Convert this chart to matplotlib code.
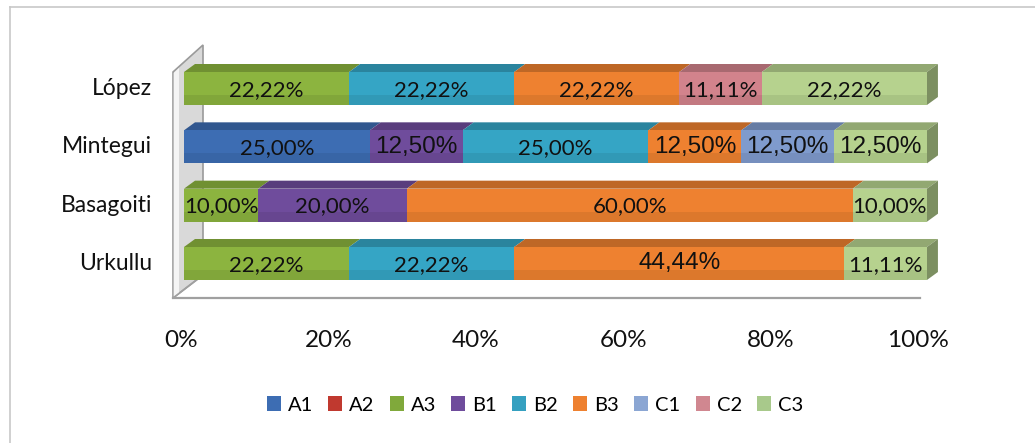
import numpy as np
import matplotlib
matplotlib.use("Agg")
from matplotlib import pyplot as plt
from matplotlib.patches import Polygon, Rectangle, Patch
from matplotlib.lines import Line2D

# categories bottom -> top
candidates = ["Urkullu", "Basagoiti", "Mintegui", "López"]
series = ["A1", "A2", "A3", "B1", "B2", "B3", "C1", "C2", "C3"]

# percent per series, in the order of candidates
A1 = [0, 0, 25.00, 0]
A2 = [0, 0, 0, 0]
A3 = [22.22, 10.00, 0, 22.22]
B1 = [0, 20.00, 12.50, 0]
B2 = [22.22, 0, 25.00, 22.22]
B3 = [44.44, 60.00, 12.50, 22.22]
C1 = [0, 0, 12.50, 0]
C2 = [0, 0, 0, 11.11]
C3 = [11.11, 10.00, 12.50, 22.22]
ticks = [0, 20, 40, 60, 80, 100]

values = np.array([A1, A2, A3, B1, B2, B3, C1, C2, C3])

colors = ["#3d6db3", "#c0392f", "#8cb43f", "#6f4c9c", "#35a5c5",
          "#ee8130", "#7f9bcd", "#d2838c", "#b6d28e"]
legend_colors = ["#3d6db3", "#c0392f", "#80a93b", "#6f4c9c", "#35a0c0",
                 "#ee8130", "#8ba6d3", "#d08790", "#a8c98b"]

# labels Excel drew in the bigger Arial-like font
big_labels = {("Mintegui", "B1"), ("Mintegui", "B3"), ("Mintegui", "C1"),
              ("Mintegui", "C3"), ("Urkullu", "B3")}


def shade(c, f):
    r, g, b = matplotlib.colors.to_rgb(c)
    return (r * f, g * f, b * f)


W, H = 1035, 443
fig = plt.figure(figsize=(W / 100, H / 100), dpi=100)

# outer chart frame (only top and left visible)
fig.add_artist(Line2D([10 / W, 10 / W], [0, 1 - 7 / H], color="#c8c8c8", lw=1.2))
fig.add_artist(Line2D([10 / W, 1], [1 - 7 / H, 1 - 7 / H], color="#c8c8c8", lw=1.2))

x0, x1 = 184, 927
ybot, ytop = 298, 45
ax = fig.add_axes([x0 / W, 1 - ybot / H, (x1 - x0) / W, (ybot - ytop) / H])
px_x = (x1 - x0) / 100.0
px_y = 58.33
ax.set_xlim(0, 100)
ax.set_ylim(-(ybot - 263.5) / px_y, 3 + (88.5 - ytop) / px_y)
ax.axis("off")
ax.set_zorder(1)


def to_data(px, py):
    return (px - x0) / px_x, (263.5 - py) / px_y


# back wall
wall = [to_data(173, 298), to_data(173, 72), to_data(203, 45), to_data(203, 275)]
ax.add_patch(Polygon(wall, closed=True, facecolor="#d9d9d9", edgecolor="#9a9a9a",
                     lw=1.2, clip_on=False, zorder=1))
ax.add_patch(Polygon([to_data(173.7, 297), to_data(173.7, 73), to_data(179, 68), to_data(179, 293)],
                     closed=True, facecolor="#f4f4f4", edgecolor="none", clip_on=False, zorder=1))
# floor line
fx0, fy = to_data(173, 298)
fx1, _ = to_data(920, 298)
ax.plot([fx0, fx1], [fy, fy], color="#a0a0a0", lw=1.6, clip_on=False, zorder=1)
ax.plot([fx0, to_data(203, 275)[0]], [fy, to_data(203, 275)[1]], color="#a0a0a0",
        lw=1.2, clip_on=False, zorder=1)

h = 33 / px_y
dx = 11 / px_x
dy = 8 / px_y

for i, cand in enumerate(candidates):
    left = 0.0
    last = max(j for j in range(len(series)) if values[j, i] > 0)
    for j, s in enumerate(series):
        w = values[j, i]
        if w <= 0:
            continue
        c = colors[j]
        yb, yt = i - h / 2, i + h / 2
        ax.add_patch(Rectangle((left, yb), w, h, facecolor=c, edgecolor="none",
                               zorder=3, clip_on=False))
        # subtle shading at the bottom of the front face
        ax.add_patch(Rectangle((left, yb), w, h * 0.3, facecolor=shade(c, 0.88),
                               edgecolor="none", zorder=3, clip_on=False, alpha=0.6))
        top = [(left, yt), (left + w, yt), (left + w + dx, yt + dy), (left + dx, yt + dy)]
        ax.add_patch(Polygon(top, closed=True, facecolor=shade(c, 0.8), edgecolor="none",
                             zorder=2, clip_on=False))
        if j == last:
            R = left + w
            side = [(R, yb), (R, yt), (R + dx, yt + dy), (R + dx, yb + dy)]
            ax.add_patch(Polygon(side, closed=True, facecolor=shade(c, 0.68),
                                 edgecolor="none", zorder=2, clip_on=False))
        txt = f"{w:.2f}%".replace(".", ",")
        if (cand, s) in big_labels:
            ax.text(left + w / 2, i, txt, ha="center", va="center", fontsize=17.5,
                    family="Liberation Sans", color="#111111", zorder=5)
        else:
            ax.text(left + w / 2, i - 0.02, txt, ha="center", va="center", fontsize=16,
                    family="Lato", color="#111111", zorder=5)
        left += w

# category labels
for i, cand in enumerate(candidates):
    ax.text(to_data(152, 0)[0], i, cand, ha="right", va="center", fontsize=16.5,
            family="Lato", color="#111111", clip_on=False)

# value axis labels (projected slightly left of the bar scale)
for t in ticks:
    ax.text(-0.4 + t * 0.992, to_data(0, 340)[1], f"{t}%", ha="center", va="center",
            fontsize=17.5, family="Lato", color="#111111", clip_on=False)

handles = [Patch(facecolor=c, edgecolor="none") for c in legend_colors]
fig.legend(handles, series, loc="center", bbox_to_anchor=(535 / W, 1 - 405 / H), ncol=9,
           frameon=False, handlelength=0.7, handleheight=0.7, handletextpad=0.35,
           columnspacing=0.75, prop={"family": "Lato", "size": 14.5})

fig.savefig("out.png", dpi=100)
